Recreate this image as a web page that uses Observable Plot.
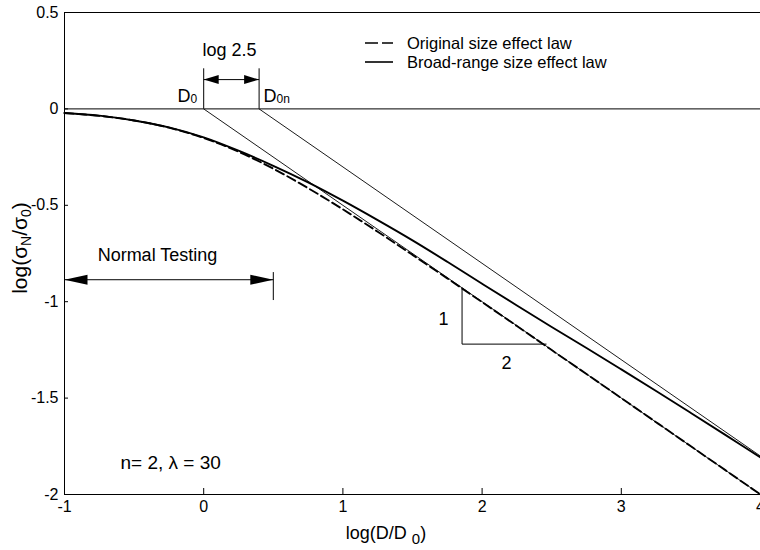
<!DOCTYPE html>
<html><head><meta charset="utf-8">
<script src="https://cdn.jsdelivr.net/npm/d3@7"></script>
<script src="https://cdn.jsdelivr.net/npm/@observablehq/plot@0.6"></script>
<style>
body{margin:0;background:#fff;}
#chart{width:760px;height:550px;}
</style></head><body><div id="chart"></div>
<script>
// log(D/D0) sample positions
const logD = [-1,-0.75,-0.5,-0.25,0,0.25,0.5,0.75,1,1.25,1.5,1.75,2,2.25,2.5,2.75,3,3.25,3.5,3.75,4];
// log(sigmaN/sigma0)
const originalLaw = [-0.021,-0.036,-0.060,-0.097,-0.151,-0.222,-0.310,-0.411,-0.521,-0.637,-0.757,-0.879,-1.002,-1.126,-1.251,-1.375,-1.500,-1.625,-1.750,-1.875,-2.000];
const broadRangeLaw = [-0.021,-0.035,-0.060,-0.096,-0.148,-0.217,-0.295,-0.381,-0.476,-0.577,-0.682,-0.793,-0.907,-1.020,-1.131,-1.240,-1.351,-1.463,-1.577,-1.692,-1.808];
// asymptotes (slope -1/2)
const asymD0X = [0, 4];
const asymD0Y = [0, -2];
const asymD0nX = [0.398, 4];
const asymD0nY = [0, -1.801];
// slope triangle 1:2
const triX = [1.856, 1.856, 2.46];
const triY = [-0.93, -1.22, -1.22];
// ranges
const normalTestingRange = [-1, 0.5];
const shiftRange = [0, 0.398]; // log 2.5
const xTicks = [-1, 0, 1, 2, 3, 4];
const yTicks = [-2, -1.5, -1, -0.5, 0, 0.5];
const seriesNames = ["Original size effect law", "Broad-range size effect law"];

const origData = logD.map((x, i) => ({x, y: originalLaw[i]}));
const broadData = logD.map((x, i) => ({x, y: broadRangeLaw[i]}));
const lineD0 = asymD0X.map((x, i) => ({x, y: asymD0Y[i]}));
const lineD0n = asymD0nX.map((x, i) => ({x, y: asymD0nY[i]}));
const triData = triX.map((x, i) => ({x, y: triY[i]}));

const headRight = (len, half) => ({draw(ctx){ctx.moveTo(0,0);ctx.lineTo(-len,-half);ctx.lineTo(-len,half);ctx.closePath();}});
const headLeft = (len, half) => ({draw(ctx){ctx.moveTo(0,0);ctx.lineTo(len,-half);ctx.lineTo(len,half);ctx.closePath();}});

const font = "'Liberation Sans', Arial, Helvetica, sans-serif";
const dash = "9,4";

const plot = Plot.plot({
  width: 760, height: 550,
  marginLeft: 64, marginRight: 0, marginTop: 12, marginBottom: 56,
  x: {domain: [-1, 4]},
  y: {domain: [-2, 0.5]},
  style: {fontFamily: font, fontSize: "16px", color: "#000", background: "#fff"},
  marks: [
    Plot.frame({stroke: "#000", strokeWidth: 1}),
    Plot.tickX(xTicks.slice(1, -1), {x: d => d, insetTop: 476, stroke: "#000", strokeWidth: 1}),
    Plot.tickY(yTicks.slice(1, -1), {y: d => d, insetRight: 692, stroke: "#000", strokeWidth: 1}),
    Plot.axisX({ticks: xTicks, tickSize: 0, tickPadding: 6, tickFormat: d => String(d), label: null, fontSize: 16}),
    Plot.axisY({ticks: yTicks, tickSize: 0, tickPadding: 6, tickFormat: d => String(d), label: null, fontSize: 16}),
    Plot.ruleY([0], {stroke: "#000", strokeWidth: 1}),
    Plot.line(lineD0, {x: "x", y: "y", stroke: "#000", strokeWidth: 0.9}),
    Plot.line(lineD0n, {x: "x", y: "y", stroke: "#000", strokeWidth: 0.9}),
    Plot.line(origData, {x: "x", y: "y", stroke: "#000", strokeWidth: 1.9, strokeDasharray: dash, curve: "catmull-rom"}),
    Plot.line(broadData, {x: "x", y: "y", stroke: "#000", strokeWidth: 1.9, curve: "catmull-rom"}),
    Plot.line(triData, {x: "x", y: "y", stroke: "#000", strokeWidth: 1}),
    // log 2.5 marker
    Plot.ruleX(shiftRange, {x: d => d, y1: 0, y2: 0.208, stroke: "#000", strokeWidth: 1}),
    Plot.link([shiftRange], {x1: d => d[0], x2: d => d[1], y1: 0.152, y2: 0.152, stroke: "#000", strokeWidth: 1}),
    Plot.dot([shiftRange[0]], {x: d => d, y: 0.152, symbol: headLeft(15, 4.5), fill: "#000", stroke: "none"}),
    Plot.dot([shiftRange[1]], {x: d => d, y: 0.152, symbol: headRight(15, 4.5), fill: "#000", stroke: "none"}),
    // Normal testing range
    Plot.ruleX([normalTestingRange[1]], {x: d => d, y1: -0.849, y2: -0.994, stroke: "#000", strokeWidth: 1}),
    Plot.link([normalTestingRange], {x1: d => d[0], x2: d => d[1], y1: -0.886, y2: -0.886, stroke: "#000", strokeWidth: 1}),
    Plot.dot([normalTestingRange[0]], {x: d => d, y: -0.886, symbol: headLeft(23, 5), fill: "#000", stroke: "none"}),
    Plot.dot([normalTestingRange[1]], {x: d => d, y: -0.886, symbol: headRight(23, 5), fill: "#000", stroke: "none"}),
    // texts
    Plot.text(["log 2.5"], {x: 0.185, y: 0.303, text: d => d, fontSize: 18}),
    Plot.text(["Normal Testing"], {x: -0.332, y: -0.76, text: d => d, fontSize: 18}),
    Plot.text(["n= 2, λ = 30"], {x: -0.598, y: -1.834, text: d => d, fontSize: 19, textAnchor: "start"}),
    Plot.text(["1"], {x: 1.723, y: -1.092, text: d => d, fontSize: 18}),
    Plot.text(["2"], {x: 2.175, y: -1.32, text: d => d, fontSize: 18})
  ]
});
document.getElementById("chart").appendChild(plot);

const svg = d3.select(plot);
const sx = v => plot.scale("x").apply(v);
const sy = v => plot.scale("y").apply(v);
const g = svg.append("g").attr("font-family", font).attr("fill", "#000");

// D0 and D0n labels
const d0 = g.append("text").attr("x", sx(0) - 6).attr("y", sy(0) - 6).attr("text-anchor", "end").attr("font-size", 18);
d0.append("tspan").text("D");
d0.append("tspan").attr("font-size", 12).attr("dy", 1).text("0");
const d0n = g.append("text").attr("x", sx(shiftRange[1]) + 5).attr("y", sy(0) - 6).attr("text-anchor", "start").attr("font-size", 18);
d0n.append("tspan").text("D");
d0n.append("tspan").attr("font-size", 12).attr("dy", 1).text("0n");

// Y axis label
const yl = g.append("text").attr("transform", "translate(27,248) rotate(-90)").attr("text-anchor", "middle").attr("font-size", 21);
yl.append("tspan").text("log(σ");
yl.append("tspan").attr("font-size", 14).attr("dy", 4).text("N");
yl.append("tspan").attr("dy", -4).text("/σ");
yl.append("tspan").attr("font-size", 14).attr("dy", 4).text("0");
yl.append("tspan").attr("dy", -4).text(")");

// X axis label
const xl = g.append("text").attr("x", 386).attr("y", 539).attr("text-anchor", "middle").attr("font-size", 18);
xl.append("tspan").text("log(D/D ");
xl.append("tspan").attr("font-size", 15).attr("dy", 5).text("0");
xl.append("tspan").attr("dy", -5).text(")");

// Legend
const lg = g.append("g");
lg.append("line").attr("x1", 365).attr("x2", 393).attr("y1", 43).attr("y2", 43).attr("stroke", "#000").attr("stroke-width", 1.6).attr("stroke-dasharray", "13,4");
lg.append("text").attr("x", 407).attr("y", 43).attr("dy", "0.35em").attr("text-anchor", "start").attr("font-size", 16.5).text(seriesNames[0]);
lg.append("line").attr("x1", 365).attr("x2", 393).attr("y1", 62).attr("y2", 62).attr("stroke", "#000").attr("stroke-width", 1.6);
lg.append("text").attr("x", 407).attr("y", 62).attr("dy", "0.35em").attr("text-anchor", "start").attr("font-size", 16.5).text(seriesNames[1]);
</script>
</body></html>
